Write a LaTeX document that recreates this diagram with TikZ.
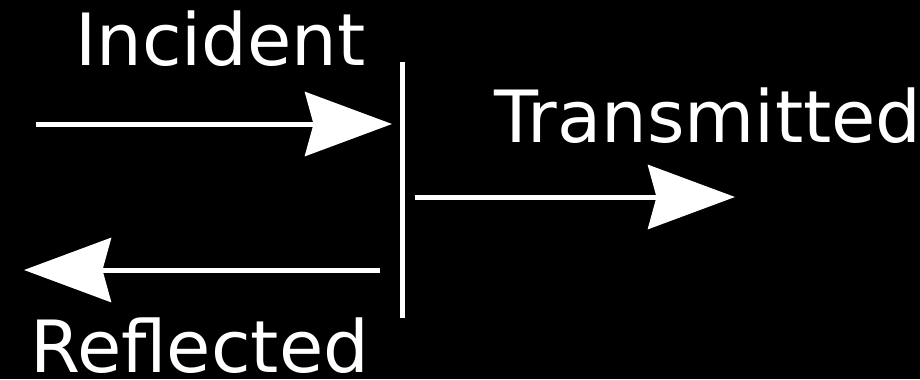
\documentclass[tikz,border=0pt]{standalone}
\usepackage{fontspec}
\setmainfont{DejaVu Sans}
\usetikzlibrary{arrows.meta}
\begin{document}
\begin{tikzpicture}[x=0.02cm,y=-0.02cm,
  wave/.style={draw=white,line width=0.1cm,
    -{Stealth[length=1.74cm,width=1.28cm,inset=0.17cm]}},
  lbl/.style={text=white,inner sep=0pt,anchor=base west,font=\fontsize{41pt}{41pt}\selectfont}]
\fill[black] (0,0) rectangle (920,379);
\useasboundingbox (0,0) rectangle (920,379);
% interface
\coordinate (itop) at (402,62);
\coordinate (ibot) at (402,318);
\draw[white,line width=0.1cm] (itop) -- (ibot);
% arrows
\coordinate (inS) at (36,124);
\coordinate (inE) at (392,124);
\coordinate (trS) at (415,197);
\coordinate (trE) at (735,197);
\coordinate (reS) at (380,270);
\coordinate (reE) at (24,270);
\draw[wave] (inS) -- (inE);
\draw[wave] (trS) -- (trE);
\draw[wave] (reS) -- (reE);
% labels
\node[lbl] (inc) at (75,65) {Incident};
\node[lbl] (tra) at (494,142) {Transmitted};
\node[lbl] (ref) at (30,372) {Reflected};
\end{tikzpicture}
\end{document}
